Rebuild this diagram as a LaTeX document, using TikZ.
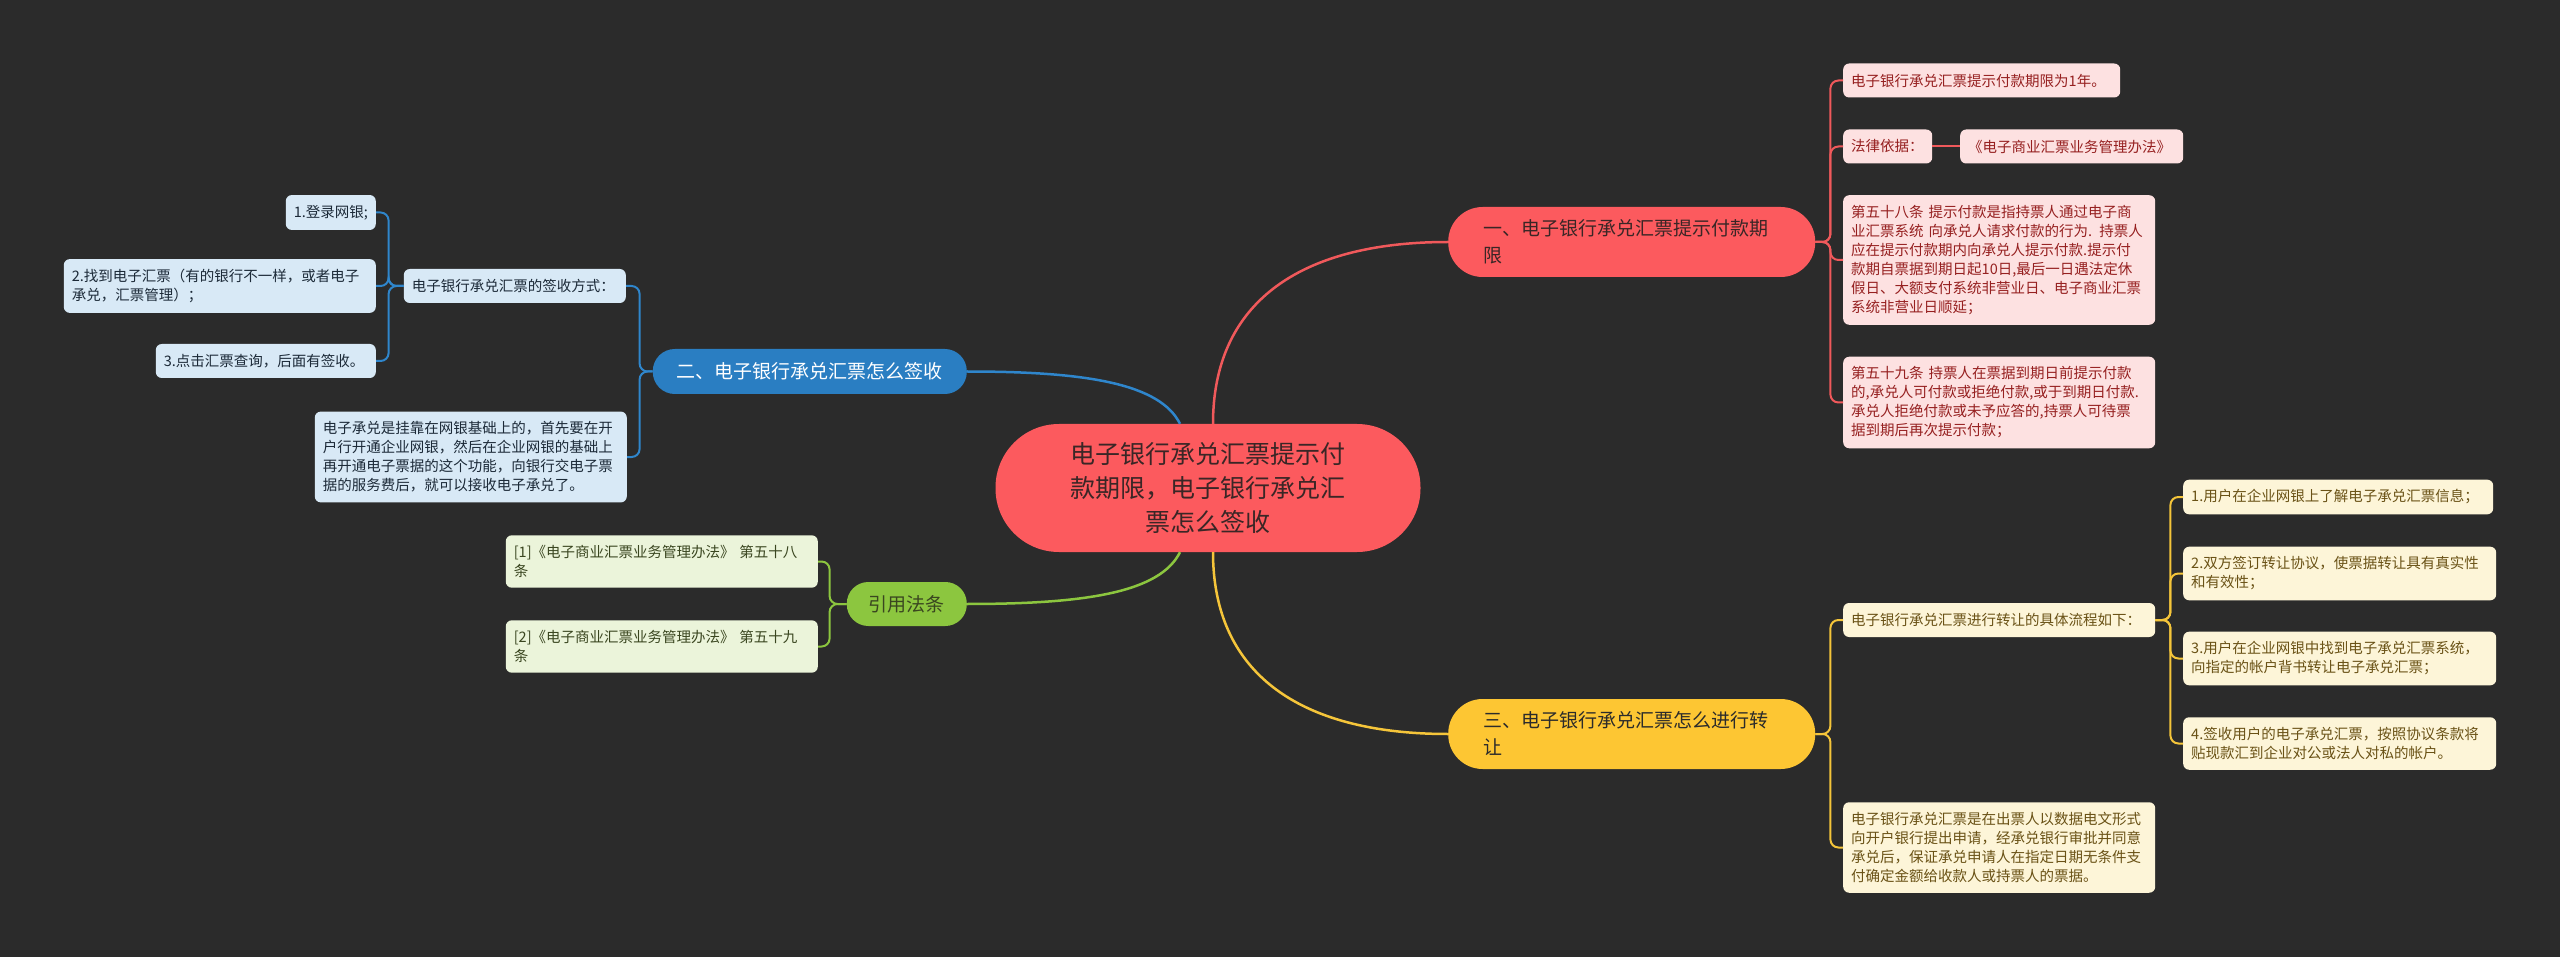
\documentclass[tikz,border=0pt]{standalone}
\usepackage{fontspec}
\newfontfamily\cjk{Noto Sans CJK SC}
\usetikzlibrary{calc}

\definecolor{bgcol}{HTML}{2B2B2B}
\definecolor{rootred}{HTML}{FC5A5E}
\definecolor{roottext}{HTML}{3A2626}
\definecolor{redline}{HTML}{F0595B}
\definecolor{pinkfill}{HTML}{FDE1E1}
\definecolor{redtext}{HTML}{962020}
\definecolor{yellowmain}{HTML}{FDC633}
\definecolor{yellowline}{HTML}{F5C53A}
\definecolor{yellowfill}{HTML}{FDF5D8}
\definecolor{browntext}{HTML}{6A5216}
\definecolor{bluemain}{HTML}{2A7EC2}
\definecolor{blueline}{HTML}{2F86CC}
\definecolor{bluefill}{HTML}{D8E9F6}
\definecolor{bluetext}{HTML}{1C2A38}
\definecolor{greenmain}{HTML}{8CC63F}
\definecolor{greenfill}{HTML}{EBF4DA}
\definecolor{greentext}{HTML}{3A4620}

\newcommand{\leaffont}{\cjk\fontsize{14.5pt}{19pt}\selectfont}
\newcommand{\branchfont}{\cjk\fontsize{19pt}{27pt}\selectfont}
\newcommand{\rootfont}{\cjk\fontsize{25pt}{34pt}\selectfont}

\tikzset{
  leaf/.style={rounded corners=6pt, inner xsep=8pt, inner ysep=10pt,
    minimum height=34pt, align=left, font=\leaffont},
  leafR/.style={leaf, fill=pinkfill, text=redtext, anchor=west},
  leafY/.style={leaf, fill=yellowfill, text=browntext, anchor=west},
  leafB/.style={leaf, fill=bluefill, text=bluetext, anchor=east},
  leafG/.style={leaf, fill=greenfill, text=greentext, anchor=east},
  pill/.style={font=\branchfont, align=left, inner ysep=0pt},
  link/.style={line width=2pt, rounded corners=8pt},
  curve/.style={line width=2.5pt},
}

\begin{document}
\begin{tikzpicture}[x=1pt, y=-1pt]
\fill[bgcol] (0,0) rectangle (2560,957);
\useasboundingbox (0,0) rectangle (2560,957);

% root
\node[fill=rootred, text=roottext, font=\rootfont, align=center, rounded corners=63.5pt,
  minimum width=425pt, minimum height=128pt] (root) at (1208,488)
  {电子银行承兑汇票提示付\\款期限，电子银行承兑汇\\票怎么签收};

% branches
\node[pill, fill=rootred, text=roottext, anchor=west, rounded corners=34.5pt,
  text width=297pt, inner xsep=35pt, minimum height=70pt] (b1) at (1448,242)
  {一、电子银行承兑汇票提示付款期\\限};
\node[pill, fill=yellowmain, text=bgcol, anchor=west, rounded corners=34.5pt,
  text width=297pt, inner xsep=35pt, minimum height=70pt] (b3) at (1448,734)
  {三、电子银行承兑汇票怎么进行转\\让};
\node[pill, fill=bluemain, text=white, anchor=east, rounded corners=22pt,
  inner xsep=24pt, minimum height=45pt] (b2) at (967,371.5)
  {二、电子银行承兑汇票怎么签收};
\node[pill, fill=greenmain, text=greentext, anchor=east, rounded corners=21.5pt,
  inner xsep=22pt, minimum height=44pt] (b4) at (967,604) {引用法条};

% red leaves
\node[leafR, text width=261pt] (r1) at (1843,80.5) {电子银行承兑汇票提示付款期限为1年。};
\node[leafR, text width=73pt] (r2) at (1843,146.5) {法律依据：};
\node[leafR, text width=207pt] (r3) at (1960,146.5) {《电子商业汇票业务管理办法》};
\node[leafR, text width=296pt] (r4) at (1843,260)
  {第五十八条 提示付款是指持票人通过电子商\\业汇票系统 向承兑人请求付款的行为. 持票人\\应在提示付款期内向承兑人提示付款.提示付\\款期自票据到期日起10日,最后一日遇法定休\\假日、大额支付系统非营业日、电子商业汇票\\系统非营业日顺延；};
\node[leafR, text width=296pt] (r5) at (1843,402.5)
  {第五十九条 持票人在票据到期日前提示付款\\的,承兑人可付款或拒绝付款,或于到期日付款.\\承兑人拒绝付款或未予应答的,持票人可待票\\据到期后再次提示付款；};

% yellow leaves
\node[leafY, text width=296pt] (y1) at (1843,620) {电子银行承兑汇票进行转让的具体流程如下：};
\node[leafY, text width=296pt] (y2) at (1843,847.5)
  {电子银行承兑汇票是在出票人以数据电文形式\\向开户银行提出申请，经承兑银行审批并同意\\承兑后，保证承兑申请人在指定日期无条件支\\付确定金额给收款人或持票人的票据。};
\node[leafY, text width=294pt] (s1) at (2183,497) {1.用户在企业网银上了解电子承兑汇票信息；};
\node[leafY, text width=297pt] (s2) at (2183,573.5) {2.双方签订转让协议，使票据转让具有真实性\\和有效性；};
\node[leafY, text width=297pt] (s3) at (2183,658.5) {3.用户在企业网银中找到电子承兑汇票系统，\\向指定的帐户背书转让电子承兑汇票；};
\node[leafY, text width=297pt] (s4) at (2183,743.5) {4.签收用户的电子承兑汇票，按照协议条款将\\贴现款汇到企业对公或法人对私的帐户。};

% blue leaves
\node[leafB, text width=206pt] (bl1) at (626,286) {电子银行承兑汇票的签收方式：};
\node[leafB, text width=296pt] (bl2) at (627,457)
  {电子承兑是挂靠在网银基础上的，首先要在开\\户行开通企业网银，然后在企业网银的基础上\\再开通电子票据的这个功能，向银行交电子票\\据的服务费后，就可以接收电子承兑了。};
\node[leafB, text width=74pt] (bq1) at (376,212.5) {1.登录网银;};
\node[leafB, text width=296pt] (bq2) at (376,286) {2.找到电子汇票（有的银行不一样，或者电子\\承兑，汇票管理）；};
\node[leafB, text width=204pt] (bq3) at (376,361) {3.点击汇票查询，后面有签收。};

% green leaves
\node[leafG, text width=296pt] (g1) at (818,561.5) {[1]《电子商业汇票业务管理办法》 第五十八\\条};
\node[leafG, text width=296pt] (g2) at (818,646.5) {[2]《电子商业汇票业务管理办法》 第五十九\\条};

% root to branches
\draw[curve, redline] ([xshift=5pt]root.north) .. controls +(0,-120) and +(-150,0) .. (b1.west);
\draw[curve, yellowline] ([xshift=5pt]root.south) .. controls +(0,120) and +(-150,0) .. (b3.west);
\draw[curve, blueline] ([xshift=-28pt]root.north) .. controls +(-20,-40) and +(120,0) .. (b2.east);
\draw[curve, greenmain] ([xshift=-28pt]root.south) .. controls +(-20,40) and +(120,0) .. (b4.east);

% branch to leaves
\foreach \n in {r1,r2,r4,r5}
  \draw[link, redline] (b1.east) -- ++(15,0) |- (\n.west);
\draw[link, redline] (r2.east) -- (r3.west);
\foreach \n in {y1,y2}
  \draw[link, yellowline] (b3.east) -- ++(15,0) |- (\n.west);
\foreach \n in {s1,s2,s3,s4}
  \draw[link, yellowline] (y1.east) -- ++(15,0) |- (\n.west);
\foreach \n in {bl1,bl2}
  \draw[link, blueline] (b2.west) -- ++(-13,0) |- (\n.east);
\foreach \n in {bq1,bq2,bq3}
  \draw[link, blueline] (bl1.west) -- ++(-15,0) |- (\n.east);
\foreach \n in {g1,g2}
  \draw[link, greenmain] (b4.west) -- ++(-17,0) |- (\n.east);
\end{tikzpicture}
\end{document}
